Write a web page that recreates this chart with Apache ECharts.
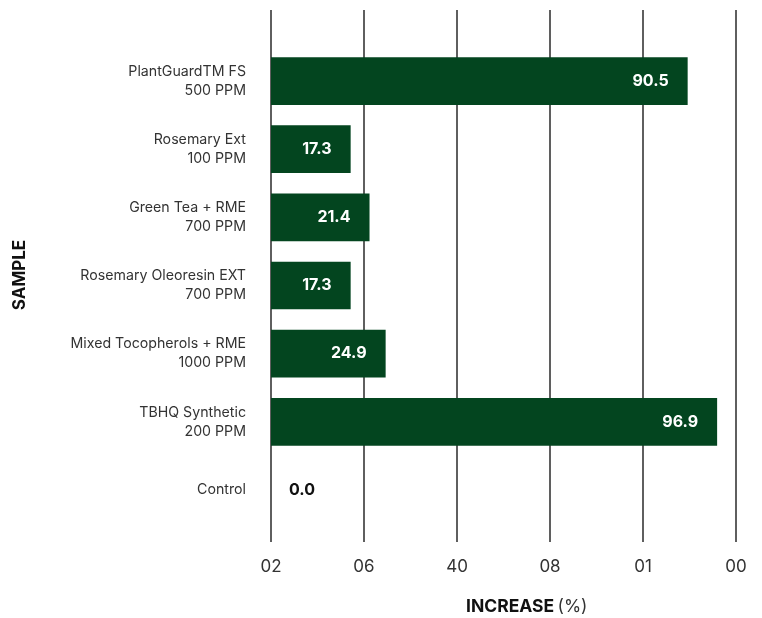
<!DOCTYPE html>
<html>
<head>
<meta charset="utf-8">
<script src="https://cdn.jsdelivr.net/npm/echarts@6/dist/echarts.min.js"></script>
<style>html,body{margin:0;padding:0;background:#fff}#c{width:762px;height:618px}</style>
</head>
<body>
<div id="c"></div>
<script>
var sampleNames = ['PlantGuardTM FS', 'Rosemary Ext', 'Green Tea + RME', 'Rosemary Oleoresin EXT', 'Mixed Tocopherols + RME', 'TBHQ Synthetic', 'Control'];
var sampleDoses = ['500 PPM', '100 PPM', '700 PPM', '700 PPM', '1000 PPM', '200 PPM', ''];
var increaseValues = [90.5, 17.3, 21.4, 17.3, 24.9, 96.9, 0.0];
var tickLabels = ['02', '06', '40', '08', '01', '00'];

var FONT = 'Inter, "Noto Sans", sans-serif';
var GREEN = '#03451f';

var chart = echarts.init(document.getElementById('c'));
chart.setOption({
  animation: false,
  textStyle: { fontFamily: FONT },
  grid: [
    { left: 271, right: 26, top: 47, bottom: 94 },
    { left: 271, right: 26, top: 10, bottom: 76 }
  ],
  xAxis: [
    { gridIndex: 0, type: 'value', min: 0, max: 101, show: false },
    {
      gridIndex: 1, type: 'value', min: 0, max: 100, interval: 20,
      axisLine: { show: false }, axisTick: { show: false },
      splitLine: { show: true, lineStyle: { color: '#2a2a2a', width: 1.5 } },
      axisLabel: {
        margin: 16, fontSize: 17, color: '#333', fontFamily: FONT,
        formatter: function (v) { return tickLabels[Math.round(v / 20)]; }
      }
    }
  ],
  yAxis: [
    {
      gridIndex: 0, type: 'category', inverse: true, data: sampleNames,
      axisLine: { show: false }, axisTick: { show: false }, splitLine: { show: false },
      axisLabel: {
        margin: 25, fontSize: 14.2, color: '#333', lineHeight: 19, fontFamily: FONT,
        formatter: function (v, i) {
          return sampleDoses[i] ? v + '\n' + sampleDoses[i] : v;
        }
      }
    },
    { gridIndex: 1, type: 'value', show: false, min: 0, max: 1 }
  ],
  series: [{
    type: 'bar',
    xAxisIndex: 0, yAxisIndex: 0,
    barCategoryGap: '30%',
    itemStyle: { color: GREEN },
    data: increaseValues.map(function (v) {
      var item = { value: v };
      if (v === 0) {
        item.label = { position: 'right', distance: 18, color: '#111' };
      }
      return item;
    }),
    label: {
      show: true, position: 'insideRight', distance: 19,
      color: '#fff', fontWeight: 'bold', fontSize: 16, fontFamily: FONT,
      formatter: function (p) { return p.value.toFixed(1); }
    },
    z: 3
  }],
  graphic: [
    {
      type: 'text', left: 466, top: 598,
      style: {
        text: '{b|INCREASE} {r|(%)}',
        rich: {
          b: { fontSize: 17.5, fontWeight: 'bold', fill: '#111', fontFamily: FONT },
          r: { fontSize: 17.5, fill: '#333', fontFamily: FONT }
        }
      }
    },
    {
      type: 'text', x: 20, y: 275, rotation: Math.PI / 2,
      style: {
        text: 'SAMPLE', fontSize: 17, fontWeight: 'bold', fill: '#111', fontFamily: FONT,
        align: 'center', verticalAlign: 'middle'
      }
    }
  ]
});
</script>
</body>
</html>
